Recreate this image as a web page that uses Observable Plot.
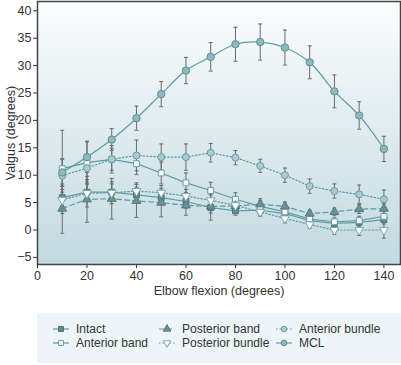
<!DOCTYPE html>
<html>
<head>
<meta charset="utf-8">
<script src="https://cdn.jsdelivr.net/npm/d3@7"></script>
<script src="https://cdn.jsdelivr.net/npm/@observablehq/plot@0.6"></script>
<style>
  html, body { margin: 0; padding: 0; background: #fff; }
  #wrap { position: relative; width: 401px; height: 365px; font-family: "Liberation Sans Narrow", "Arial Narrow", "Liberation Sans", Arial, sans-serif; color: #333; }
  #legend { position: absolute; left: 37px; top: 313px; width: 364px; height: 50px; background: #eef5f8; font-size: 12px; }
  .item { position: absolute; display: flex; align-items: center; height: 14px; white-space: nowrap; }
  .item svg { margin-right: 7px; }
</style>
</head>
<body>
<div id="wrap">
  <div id="chart"></div>
  <div id="legend"></div>
</div>
<script>
const flexion = [10, 20, 30, 40, 50, 60, 70, 80, 90, 100, 110, 120, 130, 140];
const xTicks = [0, 20, 40, 60, 80, 100, 120, 140];
const yTicks = [-5, 0, 5, 10, 15, 20, 25, 30, 35, 40];

const intact = [5.9, 6.9, 6.9, 6.4, 5.9, 5.2, 4.1, 3.5, 3.6, 3.0, 1.7, 1.2, 1.4, 1.9];
const intactErr = [1.5, 1.5, 1.5, 1.4, 1.3, 1.2, 1.0, 0.8, 0.9, 0.7, 0.6, 0.6, 0.7, 0.8];
const anteriorBand = [11.2, 12.3, 12.9, 12.1, 10.4, 8.6, 7.2, 5.6, 4.3, 3.3, 2.0, 1.5, 1.7, 2.5];
const anteriorBandErr = [7.0, 3.9, 2.0, 2.0, 2.0, 1.8, 1.5, 1.2, 1.0, 0.8, 0.8, 0.7, 0.8, 1.0];
const posteriorBand = [3.9, 5.6, 5.7, 5.3, 5.0, 4.5, 4.3, 4.4, 4.7, 4.3, 3.0, 3.3, 3.8, 3.9];
const posteriorBandErr = [4.5, 4.2, 3.7, 3.0, 2.6, 1.8, 2.5, 1.0, 1.0, 0.8, 0.6, 0.7, 0.8, 0.9];
const posteriorBundle = [5.5, 6.7, 6.8, 7.1, 6.8, 6.2, 5.4, 4.5, 3.3, 2.1, 1.0, 0.0, 0.0, 0.0];
const posteriorBundleErr = [2.5, 2.5, 2.0, 1.5, 1.3, 1.2, 1.0, 0.8, 0.8, 0.8, 0.7, 0.8, 1.0, 1.5];
const anteriorBundle = [9.9, 11.3, 12.9, 13.6, 13.3, 13.3, 14.1, 13.2, 11.7, 10.0, 8.0, 7.1, 6.5, 5.6];
const anteriorBundleErr = [3.0, 2.5, 2.5, 2.8, 2.4, 2.4, 1.7, 1.3, 1.2, 1.3, 1.3, 1.3, 1.7, 1.7];
const mcl = [10.5, 13.3, 16.5, 20.4, 24.8, 29.1, 31.6, 33.9, 34.3, 33.3, 30.6, 25.3, 20.9, 14.8];
const mclErr = [2.5, 2.8, 2.0, 2.2, 2.3, 2.4, 2.6, 3.1, 3.3, 3.2, 3.0, 3.0, 2.5, 2.3];

const seriesNames = ["Intact", "Anterior band", "Posterior band", "Posterior bundle", "Anterior bundle", "MCL"];

const series = [
  {name: seriesNames[0], values: intact, err: intactErr, symbol: "square", rotate: 0, r: 3.3, fill: "#5f8b90", stroke: "#4b767b", dash: null, curve: "linear", col: 0, row: 0},
  {name: seriesNames[1], values: anteriorBand, err: anteriorBandErr, symbol: "square", rotate: 0, r: 3.3, fill: "#f2f7f8", stroke: "#6f9fa6", dash: null, curve: "linear", col: 0, row: 1},
  {name: seriesNames[2], values: posteriorBand, err: posteriorBandErr, symbol: "triangle", rotate: 0, r: 3.3, fill: "#6a9196", stroke: "#54797d", dash: "5,3", curve: "linear", col: 1, row: 0},
  {name: seriesNames[3], values: posteriorBundle, err: posteriorBundleErr, symbol: "triangle", rotate: 180, r: 3.3, fill: "#ffffff", stroke: "#7ea8ae", dash: "1.5,2", curve: "linear", col: 1, row: 1},
  {name: seriesNames[4], values: anteriorBundle, err: anteriorBundleErr, symbol: "circle", rotate: 0, r: 3.5, fill: "#a9cbd1", stroke: "#6d9ba2", dash: "1.5,2", curve: "linear", col: 2, row: 0},
  {name: seriesNames[5], values: mcl, err: mclErr, symbol: "circle", rotate: 0, r: 3.7, fill: "#8fb8be", stroke: "#5d8f96", dash: null, curve: "catmull-rom", col: 2, row: 1}
];

const lineColor = "#5f9aa2";
const errColor = "#6a6a6a";

const capSymbol = {
  draw(ctx, size) {
    const w = Math.sqrt(size / Math.PI);
    ctx.moveTo(-w, 0);
    ctx.lineTo(w, 0);
  }
};

const errMarks = [];
const lineMarks = [];
const dotMarks = [];
for (const s of series) {
  const rows = flexion.map((x, i) => ({x, y: s.values[i], lo: s.values[i] - s.err[i], hi: s.values[i] + s.err[i]}));
  errMarks.push(Plot.ruleX(rows, {x: "x", y1: "lo", y2: "hi", stroke: errColor, strokeWidth: 1}));
  errMarks.push(Plot.dot(rows, {x: "x", y: "lo", symbol: capSymbol, r: 2, stroke: errColor, strokeWidth: 1}));
  errMarks.push(Plot.dot(rows, {x: "x", y: "hi", symbol: capSymbol, r: 2, stroke: errColor, strokeWidth: 1}));
  lineMarks.push(Plot.lineY(rows, {x: "x", y: "y", stroke: lineColor, strokeWidth: 1.2, strokeDasharray: s.dash, curve: s.curve}));
  dotMarks.push(Plot.dot(rows, {x: "x", y: "y", symbol: s.symbol, r: s.r, rotate: s.rotate, fill: s.fill, stroke: s.stroke, strokeWidth: 1}));
}

const chart = Plot.plot({
  width: 401,
  height: 300,
  marginLeft: 37,
  marginRight: 1,
  marginTop: 1,
  marginBottom: 36,
  style: {fontFamily: "'Liberation Sans Narrow', 'Arial Narrow', 'Liberation Sans', Arial, sans-serif", fontSize: "12.5px", color: "#333", background: "transparent", overflow: "visible"},
  x: {domain: [0, 146.7], ticks: xTicks, tickSize: 4, tickPadding: 3, label: "Elbow flexion (degrees)", labelAnchor: "center", labelArrow: "none", labelOffset: 30},
  y: {domain: [-6.3, 41.7], ticks: yTicks, tickSize: 4, tickPadding: 2, label: "Valgus (degrees)", labelAnchor: "center", labelArrow: "none", labelOffset: 31},
  marks: [
    Plot.frame({fill: "url(#bgGrad)"}),
    ...errMarks,
    ...lineMarks,
    ...dotMarks,
    Plot.frame({stroke: "#444", strokeWidth: 1.5})
  ]
});

const ns = "http://www.w3.org/2000/svg";
const defs = document.createElementNS(ns, "defs");
defs.innerHTML = `<linearGradient id="bgGrad" x1="0" y1="0" x2="0" y2="1">
  <stop offset="0" stop-color="#fbfdfd"/>
  <stop offset="0.5" stop-color="#dfebee"/>
  <stop offset="1" stop-color="#c2dae1"/>
</linearGradient>`;
chart.prepend(defs);
document.getElementById("chart").appendChild(chart);

// Legend
const legend = document.getElementById("legend");
const colX = [16, 122, 239];
const rowY = [9, 23];
for (const s of series) {
  const item = document.createElement("div");
  item.className = "item";
  item.style.left = colX[s.col] + "px";
  item.style.top = rowY[s.row] + "px";
  const sym = d3.create("svg").attr("width", 16).attr("height", 14);
  sym.append("line").attr("x1", 0).attr("x2", 16).attr("y1", 7).attr("y2", 7)
    .attr("stroke", lineColor).attr("stroke-width", 1.2).attr("stroke-dasharray", s.dash);
  const symMap = {square: d3.symbolSquare, triangle: d3.symbolTriangle, circle: d3.symbolCircle};
  sym.append("path").attr("d", d3.symbol(symMap[s.symbol], Math.PI * 2.8 * 2.8)())
    .attr("transform", `translate(8,7) rotate(${s.rotate})`)
    .attr("fill", s.fill).attr("stroke", s.stroke);
  item.appendChild(sym.node());
  const t = document.createElement("span");
  t.textContent = s.name;
  item.appendChild(t);
  legend.appendChild(item);
}
</script>
</body>
</html>
